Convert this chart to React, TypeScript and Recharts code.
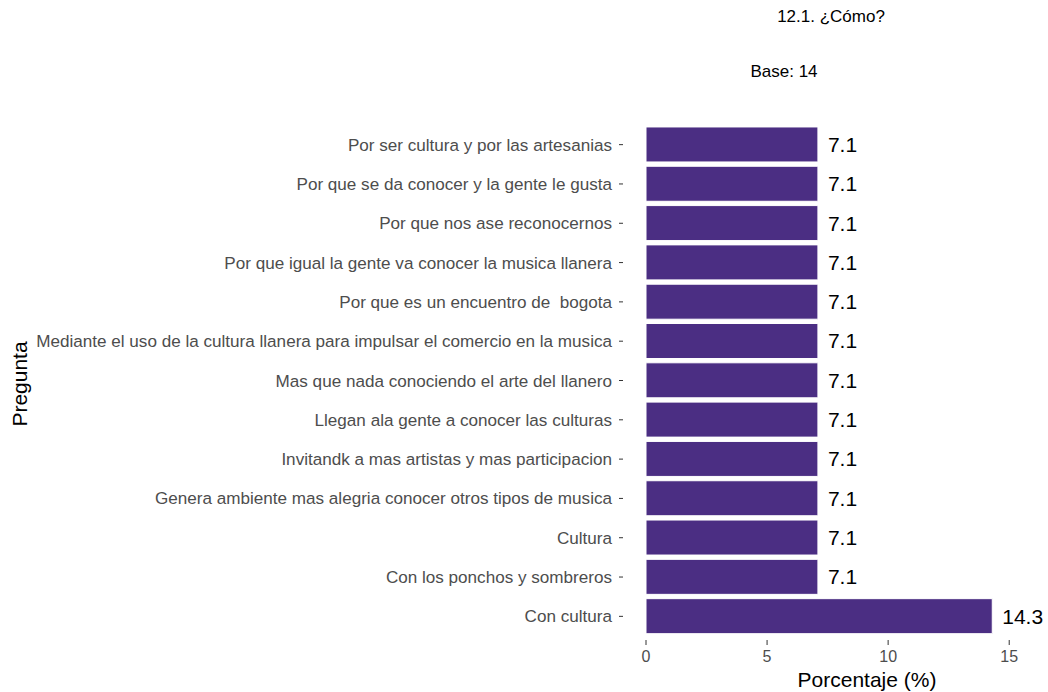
import { BarChart, Bar, XAxis, YAxis, LabelList } from "recharts";

const preguntas = [
	"Por ser cultura y por las artesanias",
	"Por que se da conocer y la gente le gusta",
	"Por que nos ase reconocernos",
	"Por que igual la gente va conocer la musica llanera",
	"Por que es un encuentro de  bogota",
	"Mediante el uso de la cultura llanera para impulsar el comercio en la musica",
	"Mas que nada conociendo el arte del llanero",
	"Llegan ala gente a conocer las culturas",
	"Invitandk a mas artistas y mas participacion",
	"Genera ambiente mas alegria conocer otros tipos de musica",
	"Cultura",
	"Con los ponchos y sombreros",
	"Con cultura",
];

const porcentajes = [7.1, 7.1, 7.1, 7.1, 7.1, 7.1, 7.1, 7.1, 7.1, 7.1, 7.1, 7.1, 14.3];

const xTicks = [0, 5, 10, 15];

const data = preguntas.map((p, i) => ({ pregunta: p, valor: porcentajes[i] }));

const font = "'Liberation Sans', Arial, Helvetica, sans-serif";

// keeps the double space that the default tick would collapse
function PreguntaTick(props: any) {
	const { x, y, payload } = props;
	return (
		<text
			x={x}
			y={y}
			dy="0.355em"
			textAnchor="end"
			fill="#4d4d4d"
			fontSize={17.1}
			fontFamily={font}
			xmlSpace="preserve"
			style={{ whiteSpace: "pre" }}
		>
			{payload.value}
		</text>
	);
}

export default function App() {
	return (
		<div
			style={{
				position: "absolute",
				left: 0,
				top: 0,
				width: 1048,
				height: 692,
				background: "#fff",
				fontFamily: font,
			}}
		>
			<BarChart
				width={1048}
				height={692}
				data={data}
				layout="vertical"
				margin={{ top: 121, right: 17, bottom: 0, left: 0 }}
				barCategoryGap="5%"
			>
				<XAxis
					type="number"
					domain={[-0.95, 15.9]}
					ticks={xTicks}
					allowDataOverflow
					axisLine={false}
					tickSize={5}
					tickMargin={6}
					tickLine={{ stroke: "#333" }}
					tick={{ fill: "#4d4d4d", fontSize: 16, fontFamily: font }}
					height={52}
				/>
				<YAxis
					type="category"
					dataKey="pregunta"
					width={623}
					padding={{ top: 4, bottom: 4 }}
					axisLine={false}
					tickSize={4}
					tickMargin={7}
					tickLine={{ stroke: "#333" }}
					interval={0}
					tick={<PreguntaTick />}
				/>
				<Bar
					dataKey="valor"
					fill="#4B2E83"
					stroke="#ffffff"
					strokeWidth={1}
					isAnimationActive={false}
				>
					<LabelList
						dataKey="valor"
						position="right"
						offset={10}
						fill="#000"
						fontSize={21}
						fontFamily={font}
					/>
				</Bar>
			</BarChart>
			<div
				style={{
					position: "absolute",
					left: 831,
					top: 17,
					transform: "translate(-50%, -50%)",
					fontSize: 17,
					color: "#000",
					whiteSpace: "nowrap",
				}}
			>
				12.1. ¿Cómo?
			</div>
			<div
				style={{
					position: "absolute",
					left: 784,
					top: 72,
					transform: "translate(-50%, -50%)",
					fontSize: 17,
					color: "#000",
					whiteSpace: "nowrap",
				}}
			>
				Base: 14
			</div>
			<div
				style={{
					position: "absolute",
					left: 867,
					top: 680,
					transform: "translate(-50%, -50%)",
					fontSize: 21,
					color: "#000",
					whiteSpace: "nowrap",
				}}
			>
				Porcentaje (%)
			</div>
			<div
				style={{
					position: "absolute",
					left: 20,
					top: 384,
					transform: "translate(-50%, -50%) rotate(-90deg)",
					fontSize: 21,
					color: "#000",
					whiteSpace: "nowrap",
				}}
			>
				Pregunta
			</div>
		</div>
	);
}
